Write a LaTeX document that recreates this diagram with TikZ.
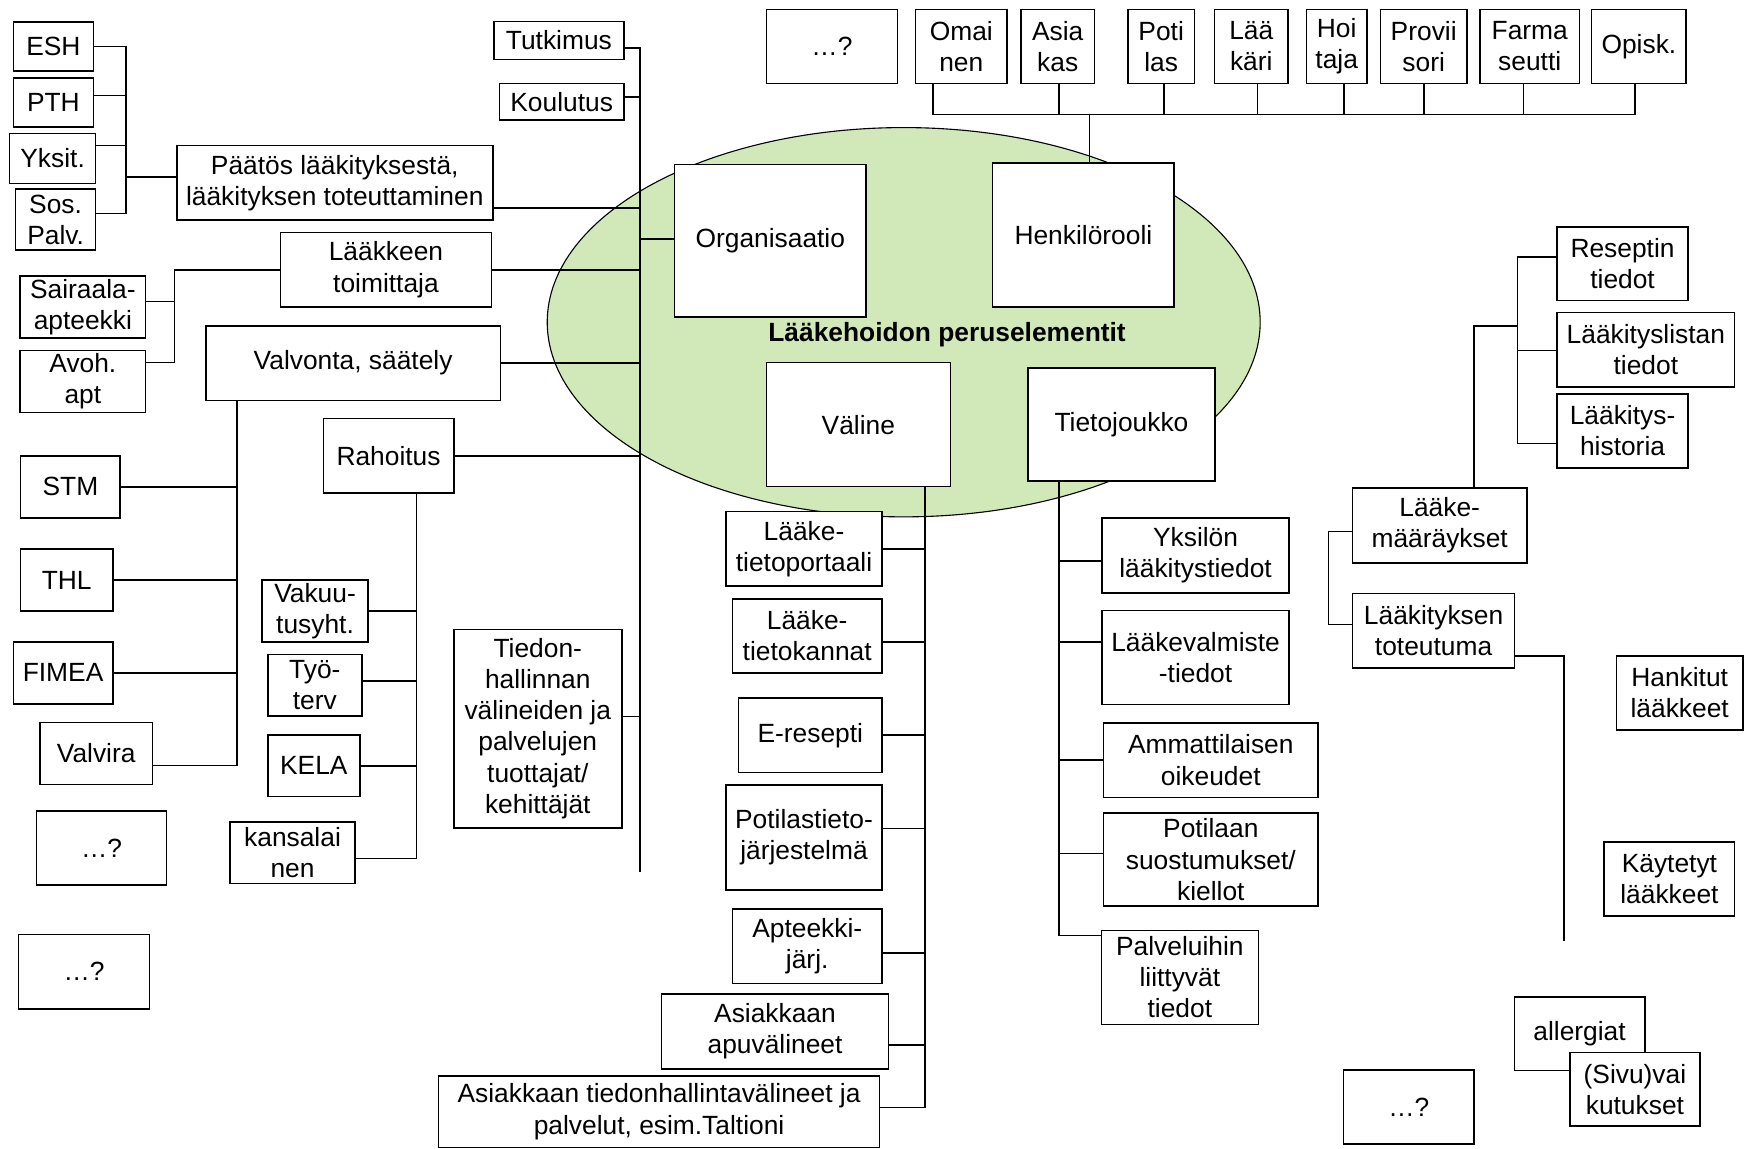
\documentclass[tikz,border=0pt]{standalone}
\usepackage{fontspec}
\setmainfont{Liberation Sans}
\usetikzlibrary{shapes.geometric}
\definecolor{leafgreen}{RGB}{209,233,185}
% box given by its corners: name, x1, y1, x2, y2, text
\newcommand\boxnode[6]{\node[box, minimum width={(#4-#2)*0.5pt}, minimum height={(#5-#3)*0.5pt}] (#1) at ({(#2+#4)/2},{(#3+#5)/2}) {#6};}
\begin{document}
\begin{tikzpicture}[x=0.5pt,y=-0.5pt,
  txt/.style={font=\fontsize{11.85pt}{14pt}\selectfont},
  box/.style={txt, draw, fill=white, line width=0.7pt, inner sep=0pt, align=center},
  conn/.style={line width=0.7pt}]
\useasboundingbox (0,0) rectangle (1568,1033);

% core ellipse and its title
\node[ellipse, draw, fill=leafgreen, line width=0.5pt, inner sep=0pt,
  minimum width=320.5pt, minimum height=175pt] (core) at (812.5,289.7) {};
\node[txt, font=\fontsize{11.85pt}{14pt}\selectfont\bfseries] (title) at (851.5,301) {Lääkehoidon peruselementit};

% core elements
\boxnode{org}{606.5}{148}{778.6}{285}{Organisaatio}
\boxnode{hen}{892.5}{146.5}{1055.6}{276}{Henkilörooli}
\boxnode{vali}{689}{326}{854.5}{437.5}{Väline}
\boxnode{tj}{924}{331}{1092.6}{432.7}{Tietojoukko}

% organisations
\boxnode{esh}{12}{20}{84}{64}{ESH}
\boxnode{pth}{12}{70}{84}{114}{PTH}
\boxnode{yks}{8.6}{120}{86}{165}{Yksit.}
\boxnode{sos}{14}{170}{86}{225}{Sos.\\Palv.}
\boxnode{pts}{159}{131}{443}{198}{Päätös lääkityksestä,\\lääkityksen toteuttaminen}
\boxnode{lt}{252}{209}{442}{276}{Lääkkeen\\toimittaja}
\boxnode{sai}{18}{248}{131}{304}{Sairaala-\\apteekki}
\boxnode{avo}{18}{315}{131}{371}{Avoh.\\apt}
\boxnode{val}{185}{293}{450}{360}{Valvonta, säätely}
\boxnode{stm}{18.6}{410}{108}{465.5}{STM}
\boxnode{thl}{18.6}{493.6}{101.4}{549.3}{THL}
\boxnode{fim}{12}{577}{101.4}{633}{FIMEA}
\boxnode{vvr}{36}{649.4}{137}{705.2}{Valvira}
\boxnode{qa}{32.8}{729}{149.8}{795.7}{…?}
\boxnode{qb}{16.8}{840}{134.5}{907.2}{…?}
\boxnode{rah}{290.7}{376.4}{408}{443.3}{Rahoitus}
\boxnode{vak}{235.5}{521.5}{331}{577.2}{Vakuu-\\tusyht.}
\boxnode{tyo}{240.8}{588.3}{325.4}{643.8}{Työ-\\terv}
\boxnode{kela}{240.8}{660.8}{323.5}{716.3}{KELA}
\boxnode{kan}{207}{738.8}{319}{794.2}{kansalai\\nen}
\boxnode{tied}{408}{565.8}{559}{744.2}{Tiedon-\\hallinnan\\välineiden ja\\palvelujen\\tuottajat/\\kehittäjät}
\boxnode{tut}{444}{19.5}{561}{53.3}{Tutkimus}
\boxnode{kou}{449}{75}{561}{108}{Koulutus}

% person roles
\boxnode{qtop}{689}{8.4}{807}{75}{…?}
\boxnode{oma}{823}{8.4}{905.6}{75}{Omai\\nen}
\boxnode{asi}{918}{8.4}{984}{75}{Asia\\kas}
\boxnode{pot}{1014}{8.4}{1074}{75}{Poti\\las}
\boxnode{laa}{1092}{8.4}{1158}{75}{Lää\\käri}
\boxnode{hoi}{1174.6}{8.4}{1229}{75}{Hoi\\taja}
\boxnode{pro}{1241}{8.4}{1319}{75}{Provii\\sori}
\boxnode{far}{1330.7}{8.4}{1420}{75}{Farma\\seutti}
\boxnode{opi}{1431}{8.4}{1516}{75}{Opisk.}

% tools
\boxnode{ltp}{652.7}{460}{793}{527}{Lääke-\\tietoportaali}
\boxnode{ltk}{658.5}{538.3}{793}{605}{Lääke-\\tietokannat}
\boxnode{ere}{664}{627.8}{793}{694.4}{E-resepti}
\boxnode{ptj}{652.7}{705.6}{793}{800.4}{Potilastieto-\\järjestelmä}
\boxnode{apj}{658.5}{817.3}{793}{884.2}{Apteekki-\\järj.}
\boxnode{apv}{594.8}{893.9}{798.8}{960.9}{Asiakkaan\\apuvälineet}
\boxnode{ath}{394.3}{967.5}{790.8}{1031.5}{Asiakkaan tiedonhallintavälineet ja\\palvelut, esim.Taltioni}

% data sets
\boxnode{yld}{991}{465.6}{1158.8}{533}{Yksilön\\lääkitystiedot}
\boxnode{lvt}{991}{549}{1158.8}{633.3}{Lääkevalmiste\\-tiedot}
\boxnode{amm}{992.2}{649.8}{1185}{716.9}{Ammattilaisen\\oikeudet}
\boxnode{psk}{992.2}{731}{1185}{814.7}{Potilaan\\suostumukset/\\kiellot}
\boxnode{pal}{990.2}{836.5}{1131.4}{921}{Palveluihin\\liittyvät\\tiedot}

% medication records
\boxnode{res}{1400}{204}{1517.6}{270}{Reseptin\\tiedot}
\boxnode{lis}{1400}{281}{1559.5}{348}{Lääkityslistan\\tiedot}
\boxnode{his}{1400}{354}{1517.6}{421}{Lääkitys-\\historia}
\boxnode{mm}{1216}{438.7}{1372.8}{506}{Lääke-\\määräykset}
\boxnode{tot}{1216}{533.6}{1361.8}{600.6}{Lääkityksen\\toteutuma}
\boxnode{han}{1453.3}{589.8}{1567}{656.3}{Hankitut\\lääkkeet}
\boxnode{kay}{1442.3}{757}{1559.6}{823.5}{Käytetyt\\lääkkeet}
\boxnode{alg}{1361.5}{896.4}{1478.8}{962.5}{allergiat}
\boxnode{siv}{1411.4}{946.1}{1528.4}{1012.6}{(Sivu)vai\\kutukset}
\boxnode{qbot}{1208}{961.8}{1325.3}{1028.7}{…?}

% ---- connectors ----
% ESH/PTH/Yksit./Sos. Palv. bracket
\coordinate (ba) at (113.5,0);
\draw[conn] (esh.east |- 0,42) -- (ba |- 0,42) -- (ba |- 0,192) -- (sos.east |- 0,192);
\draw[conn] (pth.east |- 0,86) -- (ba |- 0,86);
\draw[conn] (yks.east |- 0,131) -- (ba |- 0,131);
\draw[conn] (ba |- 0,159) -- (pts.west |- 0,159);

% main trunk on the left of the core
\coordinate (trA) at (575.5,43);
\coordinate (trB) at (575.5,784);
\draw[conn] (tut.east |- trA) -- (trA) -- (trB);
\draw[conn] (kou.east |- 0,87) -- (trA |- 0,87);
\draw[conn] (pts.east |- 0,187) -- (trA |- 0,187);
\draw[conn] (trA |- 0,215) -- (org.west |- 0,215);
\draw[conn] (lt.east) -- (lt.east -| trA);
\draw[conn] (val.east) -- (val.east -| trA);
\draw[conn] (rah.east) -- (rah.east -| trA);
\draw[conn] (tied.east |- 0,644) -- (trA |- 0,644);

% suppliers
\coordinate (bb) at (157,0);
\draw[conn] (lt.west) -| (bb |- 0,326) -- (avo.east |- 0,326);
\draw[conn] (sai.east |- 0,271) -- (bb |- 0,271);

% authorities
\coordinate (vb) at (213,688.4);
\draw[conn] (val.south -| vb) -- (vb) -- (vvr.east |- vb);
\draw[conn] (stm.east |- 0,438) -- (vb |- 0,438);
\draw[conn] (thl.east |- 0,521.5) -- (vb |- 0,521.5);
\draw[conn] (fim.east |- 0,605) -- (vb |- 0,605);

% funding
\coordinate (rb) at (374.6,772);
\draw[conn] (rah.south -| rb) -- (rb) -- (kan.east |- rb);
\draw[conn] (vak.east |- 0,549.4) -- (rb |- 0,549.4);
\draw[conn] (tyo.east |- 0,612.3) -- (rb |- 0,612.3);
\draw[conn] (kela.east |- 0,688.7) -- (rb |- 0,688.7);

% person roles bus
\coordinate (busL) at (839,103);
\coordinate (busR) at (1470,103);
\coordinate (hb) at (979.6,103);
\draw[conn] (busL) -- (busR);
\draw[conn] (hb) -- (hen.north -| hb);
\foreach \n/\x in {oma/839, asi/952, pot/1046.6, laa/1130.4, hoi/1208.3, pro/1280.5, far/1369.9, opi/1470}
  \draw[conn] (\x,0 |- \n.south) -- (\x,0 |- busL);

% tools trunk
\coordinate (vt) at (831.7,995.8);
\draw[conn] (vali.south -| vt) -- (vt) -- (ath.east |- vt);
\draw[conn] (ltp.east |- 0,493.7) -- (vt |- 0,493.7);
\draw[conn] (ltk.east |- 0,577.2) -- (vt |- 0,577.2);
\draw[conn] (ere.east |- 0,660.6) -- (vt |- 0,660.6);
\draw[conn] (ptj.east |- 0,745) -- (vt |- 0,745);
\draw[conn] (apj.east |- 0,856.6) -- (vt |- 0,856.6);
\draw[conn] (apv.east |- 0,939.6) -- (vt |- 0,939.6);

% data set trunk
\coordinate (tt) at (952,840.9);
\draw[conn] (tj.south -| tt) -- (tt) -- (pal.west |- tt);
\draw[conn] (tt |- 0,504.2) -- (yld.west |- 0,504.2);
\draw[conn] (tt |- 0,577.2) -- (lvt.west |- 0,577.2);
\draw[conn] (tt |- 0,683.5) -- (amm.west |- 0,683.5);
\draw[conn] (tt |- 0,767.4) -- (psk.west |- 0,767.4);

% medication records
\coordinate (rk) at (1364.4,0);
\draw[conn] (res.west |- 0,231) -- (rk |- 0,231) -- (rk |- 0,398.6) -- (his.west |- 0,398.6);
\draw[conn] (lis.west |- 0,315) -- (rk |- 0,315);
\draw[conn] (rk |- 0,293) -| (1325.3,0 |- mm.north);
\draw[conn] (mm.west |- 0,478) -- (1194.3,478) -- (1194.3,561.3) -- (tot.west |- 0,561.3);
\coordinate (totEnd) at (1406,846.3);
\draw[conn] (tot.east |- 0,589.8) -| (totEnd);
\end{tikzpicture}
\end{document}
